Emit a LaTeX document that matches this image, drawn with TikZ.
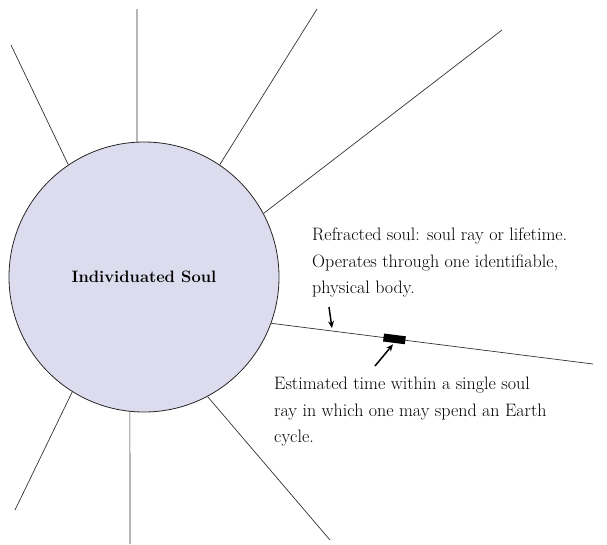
\documentclass[tikz,border=0pt]{standalone}
\usetikzlibrary{arrows.meta}
\definecolor{soulfill}{RGB}{220,220,238}
\definecolor{spokegray}{RGB}{50,50,50}
\tikzset{
  soul/.style = {draw=black!85, circle, fill=soulfill, minimum size=270pt, inner sep=0pt, line width=0.8pt, font=\bfseries\fontsize{16.5}{19}\selectfont},
  spoke/.style = {draw=spokegray, line width=0.7pt},
  spanbox/.style = {fill=black, minimum width=22pt, minimum height=8pt, inner sep=0pt, sloped},
  pointer/.style = {line width=1.5pt, -{Stealth[length=7pt,width=6pt]}},
  note/.style = {align=left, anchor=north west, inner sep=0pt, font=\fontsize{18}{26.5}\selectfont}
}

\begin{document}
\begin{tikzpicture}[x=1pt, y=-1pt]
\useasboundingbox (0,0) rectangle (607,544);
\node[soul] (soul) at (144,277) {Individuated Soul};
% outer ends of the rays
\coordinate (rA) at (11,45);
\coordinate (rB) at (137,9);
\coordinate (rC) at (317,9);
\coordinate (rD) at (502,30);
\coordinate (rE) at (593,364);
\coordinate (rF) at (330,540);
\coordinate (rG) at (130,544);
\coordinate (rH) at (15,510);
\draw[spoke] (soul.124) -- (rA);
\draw[spoke] (soul.93) -- (rB);
\draw[spoke] (soul.56) -- (rC);
\draw[spoke] (soul.28) -- (rD);
\draw[spoke] (soul.-20.6) -- coordinate[pos=0.19] (hit) node[spanbox, pos=0.383] (span) {} (rE);
\draw[spoke] (soul.-62) -- (rF);
\draw[spoke] (soul.-96) -- (rG);
\draw[spoke] (soul.-122) -- (rH);

\node[note] (refracted) at (312,228) {Refracted soul: soul ray or lifetime.\\Operates through one identifiable,\\physical body.};
\node[note] (estimated) at (274,377) {Estimated time within a single soul\\ray in which one may spend an Earth\\cycle.};

\coordinate (pin1) at (329,307);
\coordinate (pin2) at (375,366);
\draw[pointer, shorten >=3pt] (pin1) -- (hit);
\draw[pointer, shorten >=1.5pt] (pin2) -- (span.south);
\end{tikzpicture}
\end{document}
